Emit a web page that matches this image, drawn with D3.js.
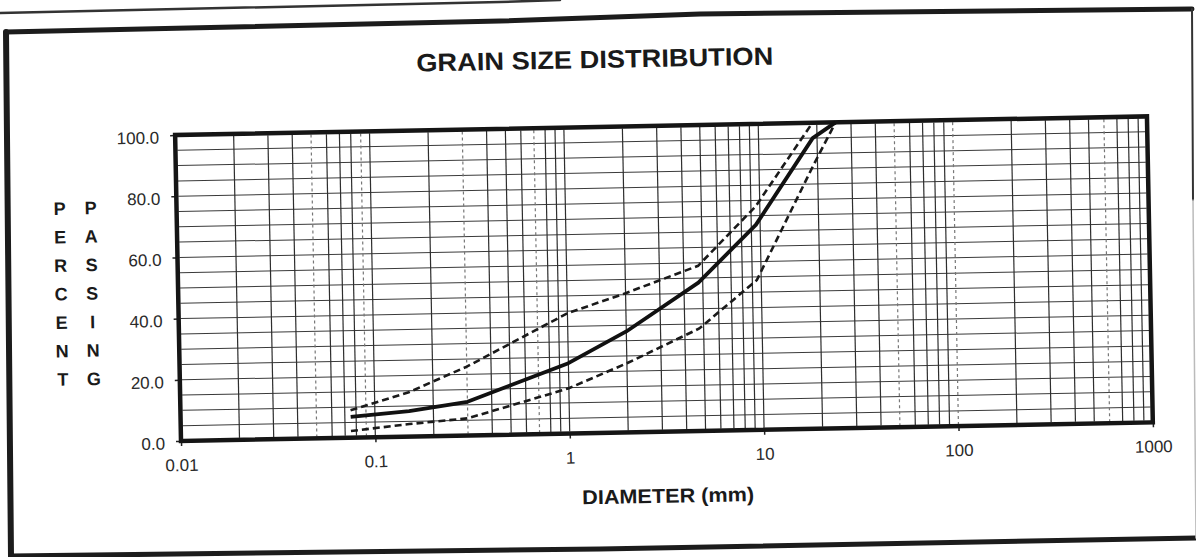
<!DOCTYPE html>
<html>
<head>
<meta charset="utf-8">
<script src="https://cdn.jsdelivr.net/npm/d3@7/dist/d3.min.js"></script>
<style>
  html, body { margin: 0; padding: 0; background: #fff; }
  svg { display: block; }
</style>
</head>
<body>
<svg id="chart" width="1196" height="557"></svg>
<script>
// ---------- data ----------
const chartTitle = "GRAIN SIZE DISTRIBUTION";
const xAxisTitle = "DIAMETER (mm)";
const yTitleLeft = ["P","E","R","C","E","N","T"];
const yTitleRight = ["P","A","S","S","I","N","G"];

const xTickValues = [0.01, 0.1, 1, 10, 100, 1000];
const xTickLabels = ["0.01", "0.1", "1", "10", "100", "1000"];
const yTickValues = [0, 20, 40, 60, 80, 100];
const yTickLabels = ["0.0", "20.0", "40.0", "60.0", "80.0", "100.0"];

// median gradation (solid)
const diameterMedian = [0.075, 0.15, 0.3, 1.0, 2.0, 4.75, 9.5, 19, 25];
const passingMedian  = [6.8,   8.3,  11,  23,  33,  48.5, 67,  95, 100];
// upper envelope (dashed)
const diameterUpper = [0.075, 0.15, 0.3,  1.0,  2.0,  4.75, 9.5, 19];
const passingUpper  = [9,     14.5, 22.5, 39.3, 45.5, 54,   73,  100];
// lower envelope (dashed)
const diameterLower = [0.075, 0.15, 0.3, 1.0,  2.0,  4.75, 9.5, 19, 25];
const passingLower  = [2.2,   4.1,  5.6, 14.8, 22.6, 33.5, 49,  86, 100];

// minor grid lines that look dotted in the scan
const dottedGrid = [0.05, 0.09, 0.3, 0.7, 50, 100, 600];

// ---------- layout ----------
const W = 972, H = 306;
const svg = d3.select("#chart");

// outer frame (scanned page border)
const frame = svg.append("g").attr("fill", "none").attr("stroke-linecap", "round");
frame.append("path")
  .attr("d", d3.line()([[0, 13], [500, 2], [560, 0]]))
  .attr("stroke", "#333").attr("stroke-width", 2.5);
frame.append("path")
  .attr("d", d3.line()([[6, 32], [500, 21], [700, 14], [1192, 9]]))
  .attr("stroke", "#1c1c1c").attr("stroke-width", 5);
frame.append("path")
  .attr("d", d3.line()([[6, 32], [11, 556]]))
  .attr("stroke", "#1c1c1c").attr("stroke-width", 6);
frame.append("path")
  .attr("d", d3.line()([[11, 556], [600, 549], [1196, 538]]))
  .attr("stroke", "#1c1c1c").attr("stroke-width", 5);
frame.append("path")
  .attr("d", d3.line()([[1192, 9], [1193, 200]]))
  .attr("stroke", "#333").attr("stroke-width", 2);
frame.append("path")
  .attr("d", d3.line()([[1193, 200], [1196, 538]]))
  .attr("stroke", "#bbb").attr("stroke-width", 1.5);

// everything else is slightly rotated, like the scan
const g = svg.append("g")
  .attr("transform", "translate(181,441) rotate(-1.1)");

const x = d3.scaleLog().domain([0.01, 1000]).range([0, W]);
const y = d3.scaleLinear().domain([0, 100]).range([0, -H]);

// grid: horizontal every 5 %
const hGrid = d3.range(5, 100, 5);
g.append("g").selectAll("line").data(hGrid).join("line")
  .attr("x1", 2).attr("x2", W - 2)
  .attr("y1", d => y(d)).attr("y2", d => y(d))
  .attr("stroke", "#3a3a3a").attr("stroke-width", 1);

// grid: vertical log lines
const vGrid = [];
[0.01, 0.1, 1, 10, 100].forEach(dec => {
  for (let k = 1; k <= 9; k++) {
    const v = +(dec * k).toPrecision(3);
    if (v > 0.01 && v < 1000) vGrid.push(v);
  }
});
vGrid.push(200,300,400,500,600,700,800,900);
const vUnique = Array.from(new Set(vGrid.map(v => +v.toPrecision(3)))).filter(v => v > 0.01 && v < 1000);
g.append("g").selectAll("line").data(vUnique).join("line")
  .attr("x1", d => x(d)).attr("x2", d => x(d))
  .attr("y1", -H + 2).attr("y2", -2)
  .attr("stroke", d => dottedGrid.includes(d) ? "#777" : "#2e2e2e")
  .attr("stroke-width", d => dottedGrid.includes(d) ? 1.2 : 1.2)
  .attr("stroke-dasharray", d => dottedGrid.includes(d) ? "3,3" : null);

// axes (ticks only, labels drawn below)
const xAxis = d3.axisBottom(x).tickValues(xTickValues).tickFormat((d, i) => xTickLabels[i]).tickSize(5).tickPadding(13);
const xa = g.append("g").call(xAxis);
xa.select(".domain").remove();
xa.selectAll("line").attr("stroke", "#222").attr("stroke-width", 1.5);
xa.selectAll("text")
  .attr("font-family", "'Liberation Sans', Arial, sans-serif")
  .attr("font-size", 17).attr("fill", "#2a2a2a");

const yAxis = d3.axisLeft(y).tickValues(yTickValues).tickFormat((d, i) => yTickLabels[i]).tickSize(5).tickPadding(11);
const ya = g.append("g").call(yAxis);
ya.select(".domain").remove();
ya.selectAll("line").attr("stroke", "#222").attr("stroke-width", 1.5);
ya.selectAll("text")
  .attr("font-family", "'Liberation Sans', Arial, sans-serif")
  .attr("font-size", 17).attr("fill", "#2a2a2a")
  .attr("dy", "0.45em");

// plot border
g.append("rect")
  .attr("x", 0).attr("y", -H).attr("width", W).attr("height", H)
  .attr("fill", "none").attr("stroke", "#151515").attr("stroke-width", 4.5);

// curves
const line = d3.line().x(d => x(d[0])).y(d => y(d[1]));
const zip = (a, b) => a.map((v, i) => [v, b[i]]);

g.append("path").datum(zip(diameterUpper, passingUpper))
  .attr("d", line).attr("fill", "none")
  .attr("stroke", "#1a1a1a").attr("stroke-width", 2.6)
  .attr("stroke-dasharray", "7,4");
g.append("path").datum(zip(diameterLower, passingLower))
  .attr("d", line).attr("fill", "none")
  .attr("stroke", "#1a1a1a").attr("stroke-width", 2.6)
  .attr("stroke-dasharray", "7,4");
g.append("path").datum(zip(diameterMedian, passingMedian))
  .attr("d", line).attr("fill", "none")
  .attr("stroke", "#111").attr("stroke-width", 3.8)
  .attr("stroke-linejoin", "round");

// title
g.append("text")
  .attr("x", 421).attr("y", -365)
  .attr("text-anchor", "middle")
  .attr("font-family", "'Liberation Sans', Arial, sans-serif")
  .attr("font-weight", "bold").attr("font-size", 25)
  .attr("textLength", 357).attr("lengthAdjust", "spacingAndGlyphs")
  .attr("fill", "#1a1a1a")
  .text(chartTitle);

// x axis title
g.append("text")
  .attr("x", x(Math.sqrt(10))).attr("y", 71)
  .attr("text-anchor", "middle")
  .attr("font-family", "'Liberation Sans', Arial, sans-serif")
  .attr("font-weight", "bold").attr("font-size", 20)
  .attr("textLength", 172).attr("lengthAdjust", "spacingAndGlyphs")
  .attr("fill", "#1a1a1a")
  .text(xAxisTitle);

// y axis title: two vertical columns of letters
const yt = g.append("g")
  .attr("font-family", "'Liberation Sans', Arial, sans-serif")
  .attr("font-weight", "bold").attr("font-size", 18)
  .attr("fill", "#1a1a1a").attr("text-anchor", "middle");
yt.selectAll("text.l").data(yTitleLeft).join("text").attr("class", "l")
  .attr("x", -117).attr("y", (d, i) => -235 + i * 28.5 + 6.5).text(d => d);
yt.selectAll("text.r").data(yTitleRight).join("text").attr("class", "r")
  .attr("x", -86).attr("y", (d, i) => -235 + i * 28.5 + 6.5).text(d => d);
</script>
</body>
</html>
